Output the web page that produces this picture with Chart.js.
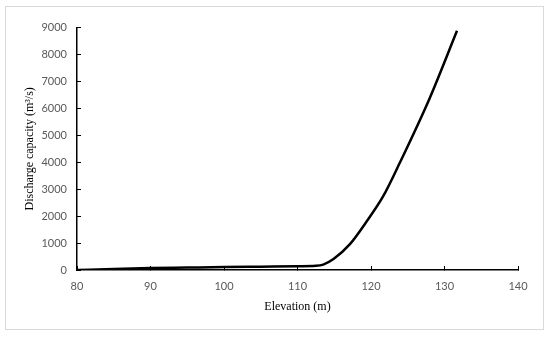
<!DOCTYPE html>
<html>
<head>
<meta charset="utf-8">
<script src="https://cdn.jsdelivr.net/npm/chart.js@4"></script>
<style>
  html, body { margin: 0; padding: 0; background: #fff; }
  #box {
    position: absolute; left: 5px; top: 6px;
    width: 537px; height: 322px;
    border: 1px solid #d9d9d9;
  }
</style>
</head>
<body>
<div id="box"><canvas id="myChart" width="537" height="322"></canvas></div>
<script>
// elevation (m) and discharge capacity (m3/s)
const elevation = [80, 85, 90, 95, 100, 105, 110, 112.5, 113.5, 114.9, 117.1, 119.4, 121.7, 123.9, 128, 131.7]
const discharge = [0, 40, 70, 90, 110, 125, 140, 155, 200, 406, 950, 1800, 2760, 3970, 6390, 8880]
const xTicks = [80, 90, 100, 110, 120, 130, 140]
const yTicks = [0, 1000, 2000, 3000, 4000, 5000, 6000, 7000, 8000, 9000]

const tickFont = { family: "Lato", size: 11 }
const titleFont = { family: "Liberation Serif", size: 12 }

var ctx = document.getElementById('myChart').getContext('2d')
var myChart = new Chart(ctx, {
  type: 'scatter',
  data: {
    datasets: [{
      data: elevation.map((e, i) => ({ x: e, y: discharge[i] })),
      showLine: true,
      borderColor: '#000',
      borderWidth: 2.5,
      pointRadius: 0,
      cubicInterpolationMode: 'monotone'
    }]
  },
  options: {
    responsive: false,
    animation: false,
    layout: { padding: { top: 15, right: 25, left: 0, bottom: 0 } },
    plugins: { legend: { display: false }, tooltip: { enabled: false } },
    scales: {
      x: {
        type: 'linear', min: 80, max: 140,
        afterBuildTicks: axis => { axis.ticks = xTicks.map(v => ({ value: v })) },
        afterFit: axis => { axis.height = 59 },
        grid: { drawOnChartArea: false, drawTicks: true, tickLength: -4, color: '#000' },
        border: { color: '#000', width: 1.5 },
        ticks: { color: '#595959', font: tickFont, padding: 14, callback: v => String(v) },
        title: { display: true, text: 'Elevation (m)', color: '#000', font: titleFont, padding: { top: 0, bottom: 15 } }
      },
      y: {
        min: 0, max: 9000,
        afterBuildTicks: axis => { axis.ticks = yTicks.map(v => ({ value: v })) },
        afterFit: axis => { axis.width = 71 },
        grid: { drawOnChartArea: false, drawTicks: true, tickLength: -4, color: '#000' },
        border: { color: '#000', width: 1.5 },
        ticks: { color: '#595959', font: tickFont, padding: 14, callback: v => String(v) },
        title: { display: true, text: 'Discharge capacity (m³/s)', color: '#000', font: titleFont, padding: { top: 17, bottom: 0 } }
      }
    }
  }
})
</script>
</body>
</html>
